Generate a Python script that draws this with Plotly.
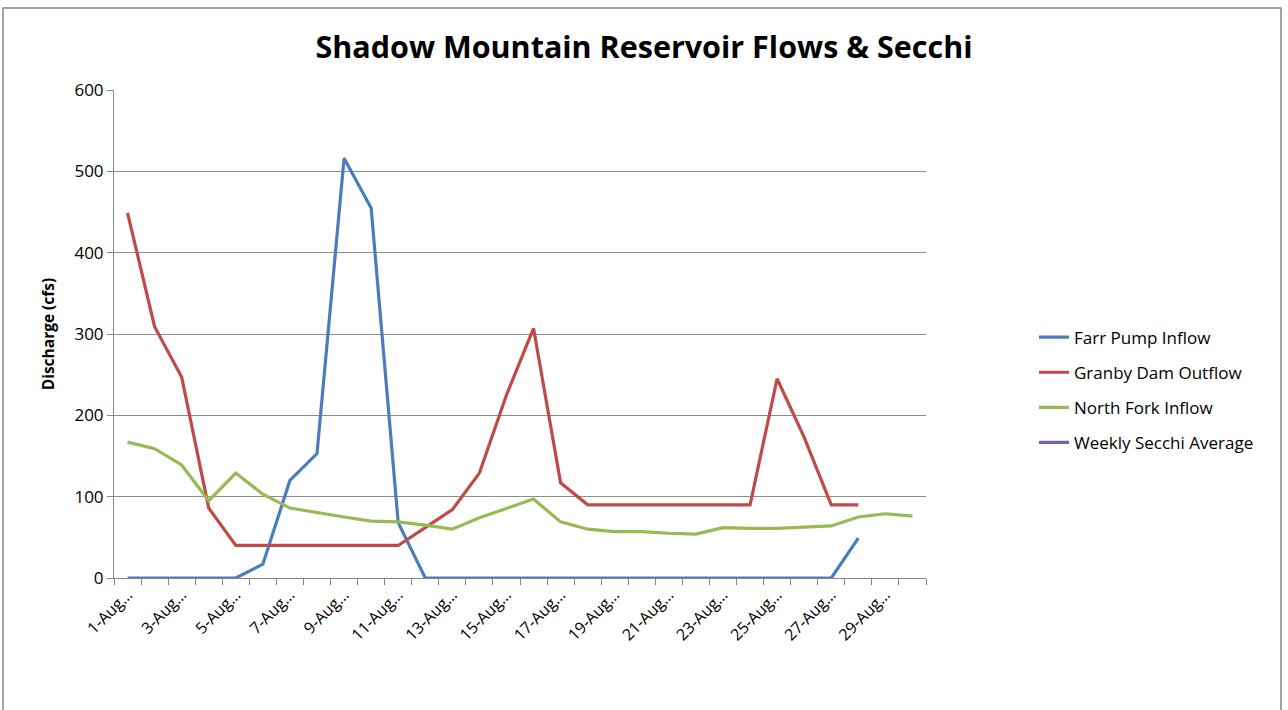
import plotly.graph_objects as go

categories = [f"{d}-Aug" for d in range(1, 31)]
tick_labels = [f"{d}-Aug…" if d % 2 == 1 else "" for d in range(1, 31)]

farr_pump = [0, 0, 0, 0, 0, 17, 120, 153, 516, 455, 68, 0, 0, 0, 0, 0, 0, 0, 0, 0,
             0, 0, 0, 0, 0, 0, 0, 49, None, None]
granby_dam = [449, 309, 247, 86, 40, 40, 40, 40, 40, 40, 40, 62, 84, 129, 225, 307, 117, 90, 90, 90,
              90, 90, 90, 90, 245, 173, 90, 90, None, None]
north_fork = [167, 159, 139, 95, 129, 103, 86, 80, 75, 70, 69, 65, 60, 74, 86, 97, 69, 60, 57, 57,
              55, 54, 62, 61, 61, 62, 64, 75, 79, 76]
secchi = [None] * 30

series = [
    ("Farr Pump Inflow", farr_pump, "#4A7EBB"),
    ("Granby Dam Outflow", granby_dam, "#BE4B48"),
    ("North Fork Inflow", north_fork, "#98B954"),
    ("Weekly Secchi Average", secchi, "#7D60A0"),
]

FONT = "Open Sans, Noto Sans, sans-serif"

fig = go.Figure()
for i, (name, vals, color) in enumerate(series):
    fig.add_trace(go.Scatter(
        x=categories, y=vals, name=name, mode="lines",
        line=dict(color=color, width=3.2),
        legendgroup=f"g{i}", connectgaps=False,
    ))

fig.update_layout(
    width=1288, height=710,
    margin=dict(l=114, r=362, t=90, b=132),
    paper_bgcolor="white", plot_bgcolor="white",
    font=dict(family=FONT, color="#000000"),
    title=dict(text="<b>Shadow Mountain Reservoir Flows & Secchi</b>",
               x=0.5, xanchor="center", y=0.934, yanchor="middle",
               font=dict(size=30.5, family=FONT, color="#000000")),
    legend=dict(x=(1034 - 114) / 812, xanchor="left", y=0.385, yanchor="middle",
                font=dict(size=17, family=FONT, color="#000000"),
                tracegroupgap=10, traceorder="grouped",
                bgcolor="rgba(0,0,0,0)"),
    showlegend=True,
)

fig.update_xaxes(
    type="category", categoryorder="array", categoryarray=categories,
    range=[-0.5, 29.5],
    tickmode="array", tickvals=categories, ticktext=tick_labels,
    tickson="boundaries", ticks="outside", ticklen=6, tickcolor="#868686",
    tickangle=-45, tickfont=dict(size=16, family=FONT, color="#000000"),
    showline=True, linecolor="#868686", linewidth=1,
    showgrid=False, zeroline=False,
)
fig.update_yaxes(
    range=[0, 600], tickmode="linear", tick0=0, dtick=100,
    ticks="outside", ticklen=6, tickcolor="#868686",
    tickfont=dict(size=17, family=FONT, color="#000000"),
    showline=True, linecolor="#868686", linewidth=1,
    showgrid=True, gridcolor="#8C8C8C", gridwidth=1,
    zeroline=False,
    title=dict(text="<b>Discharge (cfs)</b>", font=dict(size=15.5, family=FONT, color="#000000"),
               standoff=16),
)

# outer chart border
fig.add_shape(type="rect", xref="paper", yref="paper",
              x0=(3 - 114) / 812, x1=(1281 - 114) / 812,
              y0=(578 - 720) / 488, y1=(578 - 8) / 488,
              line=dict(color="#868686", width=1.5), fillcolor="rgba(0,0,0,0)", layer="below")

fig.write_html("out.html", config={"displayModeBar": False},
               post_script="document.body.style.margin='0';")
